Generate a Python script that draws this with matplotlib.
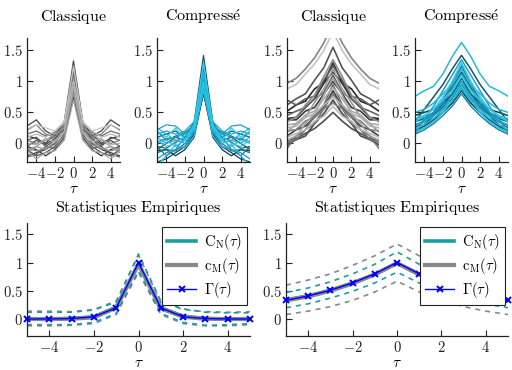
import numpy as np
import matplotlib
matplotlib.use("Agg")
import matplotlib.pyplot as plt
from matplotlib.colors import LinearSegmentedColormap
from matplotlib.ticker import FixedLocator

plt.rcParams['mathtext.fontset'] = 'cm'
plt.rcParams['font.family'] = ['cmr10', 'DejaVu Serif']
plt.rcParams['axes.formatter.use_mathtext'] = True

# ---------------- data ----------------
tau = [-5, -4, -3, -2, -1, 0, 1, 2, 3, 4, 5]
# curves below are symmetric in tau: values given at tau = 0..5

# short memory, classical estimator
classique_short = [
    [1.33, 0.35, 0.12, 0.20, 0.38, 0.28],
    [1.20, 0.30, 0.10, 0.15, 0.30, 0.22],
    [1.25, 0.33, 0.20, 0.25, 0.30, 0.20],
    [1.10, 0.28, 0.05, -0.05, 0.10, 0.05],
    [1.05, 0.25, 0.15, 0.05, -0.05, -0.10],
    [0.95, 0.22, 0.00, -0.10, -0.15, -0.20],
    [0.90, 0.30, 0.10, 0.05, 0.00, 0.05],
    [1.00, 0.35, 0.20, 0.10, 0.15, 0.10],
    [0.85, 0.15, -0.05, -0.15, -0.20, -0.10],
    [0.80, 0.20, 0.05, -0.10, -0.05, -0.15],
    [0.75, 0.10, -0.10, -0.20, -0.10, -0.05],
    [1.15, 0.32, 0.18, 0.12, 0.20, 0.15],
    [0.92, 0.18, 0.02, 0.08, -0.02, 0.00],
    [0.98, 0.25, 0.08, -0.02, 0.05, -0.05],
    [0.88, 0.12, -0.02, -0.08, -0.12, -0.08],
    [1.08, 0.28, 0.15, 0.00, 0.08, 0.12],
    [0.82, 0.08, -0.08, -0.05, -0.18, -0.22],
    [0.70, 0.05, -0.12, -0.15, -0.25, -0.12],
]

# short memory, compressed estimator
compresse_short = [
    [1.42, 0.35, 0.10, 0.20, 0.15, 0.10],
    [1.25, 0.32, 0.15, 0.28, 0.30, 0.22],
    [1.30, 0.30, 0.05, 0.25, 0.10, 0.20],
    [1.20, 0.28, 0.10, -0.10, -0.20, -0.05],
    [1.10, 0.25, 0.00, 0.05, 0.15, 0.25],
    [1.05, 0.30, 0.05, 0.10, 0.00, -0.10],
    [1.00, 0.20, -0.05, -0.10, -0.15, -0.25],
    [0.95, 0.25, 0.12, 0.00, -0.05, 0.05],
    [0.90, 0.18, 0.00, -0.12, -0.10, -0.15],
    [0.85, 0.20, 0.08, 0.05, 0.00, 0.10],
    [0.80, 0.15, -0.05, -0.15, -0.25, -0.30],
    [0.88, 0.30, 0.15, 0.10, 0.08, 0.02],
    [1.00, 0.25, 0.05, -0.05, 0.05, 0.00],
    [0.92, 0.22, 0.10, 0.02, -0.08, -0.05],
    [1.15, 0.35, 0.20, 0.15, 0.20, 0.15],
    [0.82, 0.10, -0.10, -0.20, -0.10, -0.12],
    [0.97, 0.28, 0.18, 0.12, 0.05, 0.20],
    [0.86, 0.12, -0.08, -0.02, -0.20, -0.35],
]

# long memory, classical estimator
classique_long = [
    [1.95, 1.62, 1.38, 1.20, 1.05, 0.97],
    [1.80, 1.50, 1.28, 1.12, 0.95, 0.88],
    [1.55, 1.22, 1.02, 0.80, 0.72, 0.62],
    [1.35, 1.08, 0.78, 0.62, 0.42, 0.35],
    [1.30, 0.98, 0.88, 0.68, 0.62, 0.52],
    [1.25, 1.02, 0.76, 0.72, 0.62, 0.70],
    [1.20, 0.88, 0.66, 0.42, 0.32, 0.18],
    [1.15, 0.97, 0.72, 0.58, 0.42, 0.40],
    [1.10, 0.82, 0.72, 0.58, 0.52, 0.45],
    [1.05, 0.78, 0.48, 0.32, 0.12, 0.05],
    [1.00, 0.80, 0.58, 0.52, 0.38, 0.38],
    [0.95, 0.62, 0.46, 0.22, 0.12, -0.08],
    [0.90, 0.72, 0.52, 0.46, 0.32, 0.30],
    [0.85, 0.58, 0.42, 0.28, 0.22, 0.12],
    [0.80, 0.56, 0.32, 0.22, 0.06, 0.02],
    [0.75, 0.62, 0.48, 0.42, 0.28, 0.25],
    [0.70, 0.48, 0.32, 0.12, 0.06, -0.02],
    [0.65, 0.56, 0.42, 0.36, 0.22, 0.20],
    [0.60, 0.44, 0.36, 0.22, 0.16, 0.10],
    [0.50, 0.36, 0.24, 0.16, 0.08, 0.05],
]

# long memory, compressed estimator
compresse_long = [
    [1.42, 1.20, 0.95, 0.75, 0.55, 0.35],
    [1.35, 1.10, 0.85, 0.60, 0.40, 0.15],
    [1.30, 1.00, 0.75, 0.55, 0.45, 0.35],
    [1.25, 0.95, 0.70, 0.50, 0.35, 0.25],
    [1.20, 0.95, 0.80, 0.65, 0.55, 0.50],
    [1.15, 0.90, 0.65, 0.45, 0.30, 0.20],
    [1.12, 0.88, 0.66, 0.50, 0.38, 0.28],
    [1.10, 0.85, 0.70, 0.55, 0.45, 0.40],
    [1.05, 0.80, 0.60, 0.45, 0.35, 0.30],
    [1.00, 0.75, 0.55, 0.40, 0.30, 0.22],
    [1.00, 0.80, 0.65, 0.55, 0.50, 0.45],
    [0.95, 0.75, 0.60, 0.50, 0.42, 0.38],
    [0.92, 0.70, 0.50, 0.35, 0.25, 0.18],
    [0.90, 0.72, 0.58, 0.48, 0.40, 0.35],
    [0.88, 0.68, 0.55, 0.45, 0.35, 0.30],
    [0.85, 0.65, 0.50, 0.38, 0.28, 0.20],
    [0.80, 0.60, 0.45, 0.32, 0.22, 0.15],
    [1.63, 1.40, 1.12, 0.92, 0.85, 0.76],
]

# empirical statistics, short memory
gamma_short = [0.0, 0.002, 0.008, 0.04, 0.2, 1.0, 0.2, 0.04, 0.008, 0.002, 0.0]
cn_short = [0.0, 0.0, 0.01, 0.04, 0.21, 0.98, 0.2, 0.05, 0.01, 0.0, 0.0]
cm_short = [0.0, 0.0, 0.005, 0.03, 0.2, 0.97, 0.19, 0.04, 0.005, 0.0, 0.0]
cn_up_short = [0.12, 0.12, 0.12, 0.16, 0.30, 1.15, 0.32, 0.18, 0.12, 0.11, 0.11]
cn_lo_short = [-0.10, -0.10, -0.10, -0.06, 0.10, 0.85, 0.10, -0.06, -0.11, -0.10, -0.08]
cm_up_short = [0.14, 0.14, 0.13, 0.17, 0.32, 1.13, 0.30, 0.17, 0.13, 0.12, 0.13]
cm_lo_short = [-0.12, -0.12, -0.11, -0.08, 0.08, 0.83, 0.08, -0.08, -0.12, -0.12, -0.10]

# empirical statistics, long memory
gamma_long = [0.33, 0.41, 0.51, 0.64, 0.8, 1.0, 0.8, 0.64, 0.51, 0.41, 0.33]
cn_long = [0.34, 0.41, 0.51, 0.64, 0.79, 0.99, 0.79, 0.63, 0.50, 0.41, 0.33]
cm_long = [0.33, 0.40, 0.50, 0.63, 0.79, 0.99, 0.79, 0.63, 0.50, 0.40, 0.32]
cn_up_long = [0.47, 0.55, 0.66, 0.80, 0.97, 1.19, 0.97, 0.80, 0.66, 0.55, 0.47]
cn_lo_long = [0.20, 0.27, 0.37, 0.49, 0.64, 0.83, 0.64, 0.49, 0.37, 0.27, 0.20]
cm_up_long = [0.60, 0.69, 0.80, 0.95, 1.12, 1.33, 1.12, 0.95, 0.80, 0.69, 0.60]
cm_lo_long = [0.08, 0.14, 0.22, 0.33, 0.48, 0.67, 0.48, 0.33, 0.22, 0.14, 0.08]

yticks = [0, 0.5, 1, 1.5]
ytick_labels = ['0', '0.5', '1', '1.5']
xticks = [-4, -2, 0, 2, 4]

# ---------------- styling ----------------
TEAL = '#1a9ea2'
GREY = '#888888'
BLUE = '#0000ff'
grey_cmap = LinearSegmentedColormap.from_list('g', ['#2a2a2a', '#707070', '#c4c4c4'])
cyan_cmap = LinearSegmentedColormap.from_list('c', ['#0c3646', '#1a98bb', '#2ccbee'])

W, H = 512, 370
fig = plt.figure(figsize=(W / 100, H / 100), dpi=100)


def rect(l, r, t, b):
    return [l / W, (H - b) / H, (r - l) / W, (b - t) / H]


def style(ax):
    ax.set_xlim(-5, 5)
    ax.set_ylim(-0.3, 1.7)
    for s in ('top', 'right'):
        ax.spines[s].set_visible(False)
    for s in ('left', 'bottom'):
        ax.spines[s].set_linewidth(0.9)
        ax.spines[s].set_color('#222222')
    ax.xaxis.set_major_locator(FixedLocator(xticks))
    ax.yaxis.set_major_locator(FixedLocator(yticks))
    ax.set_yticklabels([f'${t}$' for t in ytick_labels])
    ax.set_xticklabels([f'${t}$' if t >= 0 else f'$-{abs(t)}$' for t in xticks])
    ax.tick_params(direction='in', length=4, width=0.8, labelsize=10.5,
                   pad=3, colors='#222222')
    ax.set_xlabel(r'$\tau$', fontsize=11, labelpad=1)


def mirror(c):
    return list(reversed(c[1:])) + list(c)


top_rects = [rect(27, 120, 38, 162), rect(157, 250, 38, 162),
             rect(287, 379, 38, 162), rect(415, 508, 38, 162)]
top_data = [classique_short, compresse_short, classique_long, compresse_long]
top_cmaps = [grey_cmap, cyan_cmap, grey_cmap, cyan_cmap]
top_offsets = [3, 3, 12, 3]
top_lw = [0.9, 0.9, 1.2, 1.1]
top_titles = [r'$\mathrm{Classique}$', r'$\mathrm{Compress\acute{e}}$',
              r'$\mathrm{Classique}$', r'$\mathrm{Compress\acute{e}}$']

for r_, data, cmap, off, lw, title in zip(top_rects, top_data, top_cmaps,
                                          top_offsets, top_lw, top_titles):
    ax = fig.add_axes(r_)
    n = len(data)
    shades = [((i * 7 + off) % n) / (n - 1) for i in range(n)]
    order = sorted(range(n), key=lambda i: shades[i])
    for i in order:
        ax.plot(tau, mirror(data[i]), color=cmap(shades[i]), lw=lw)
    style(ax)
    ax.set_title(title, fontsize=11.5, pad=12)

bottom_rects = [rect(27, 250, 223, 336), rect(286, 508, 223, 336)]
bottom_sets = [
    (gamma_short, cn_short, cm_short, cn_up_short, cn_lo_short, cm_up_short, cm_lo_short),
    (gamma_long, cn_long, cm_long, cn_up_long, cn_lo_long, cm_up_long, cm_lo_long),
]
for r_, (g, cn, cm, cnu, cnl, cmu, cml) in zip(bottom_rects, bottom_sets):
    ax = fig.add_axes(r_)
    for arr in (cmu, cml):
        ax.plot(tau, arr, color=GREY, lw=1.2, ls=(0, (3, 3)))
    for arr in (cnu, cnl):
        ax.plot(tau, arr, color=TEAL, lw=1.2, ls=(0, (3, 3)))
    l1, = ax.plot(tau, cn, color=TEAL, lw=2.6)
    l2, = ax.plot(tau, cm, color=GREY, lw=3.0)
    l3, = ax.plot(tau, g, color=BLUE, lw=1.0, marker='x', ms=4, mew=1.4,
                  clip_on=False, zorder=5)
    style(ax)
    ax.set_title(r'$\mathrm{Statistiques\ Empiriques}$', fontsize=11.5, pad=8)
    leg = ax.legend([l1, l2, l3],
                    [r'$\mathrm{C}_{\mathrm{N}}(\tau)$', r'$\mathrm{c}_{\mathrm{M}}(\tau)$',
                     r'$\Gamma(\tau)$'],
                    loc='upper right', bbox_to_anchor=(1.005, 1.0), fontsize=10.5,
                    frameon=True, fancybox=False, framealpha=1, edgecolor='#222222',
                    handlelength=2.0, borderpad=0.35, labelspacing=0.25,
                    handletextpad=0.5, borderaxespad=0.3)
    leg.get_frame().set_linewidth(0.8)

fig.savefig('out.png', dpi=100)
